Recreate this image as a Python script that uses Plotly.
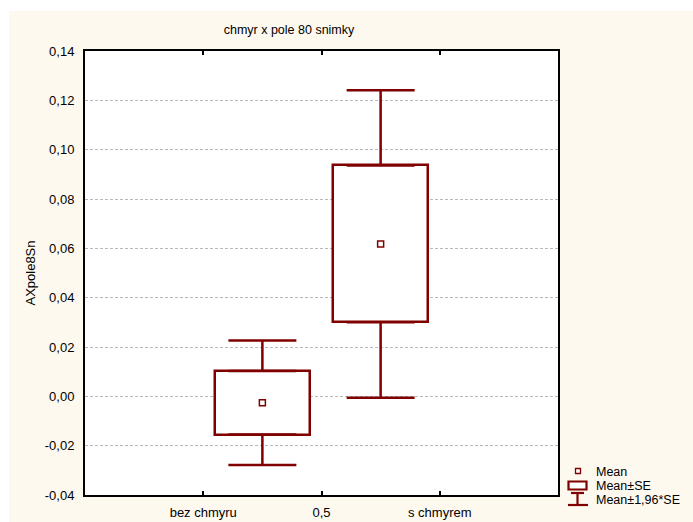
import plotly.graph_objects as go

# Group summary statistics (mean and standard error of AXpole8Sn)
groups = ["bez chmyru", "s chmyrem"]
group_pos = [0.25, 0.75]
means = [-0.0026, 0.0618]
se = [0.0129, 0.0318]
z = 1.96

tick_vals = [0, 0.5, 1]
tick_text = ["bez chmyru", "0,5", "s chmyrem"]
y_ticks = [-0.04, -0.02, 0.00, 0.02, 0.04, 0.06, 0.08, 0.10, 0.12, 0.14]
y_tick_text = [f"{v:.2f}".replace(".", ",") for v in y_ticks]

DARK_RED = "#800000"
CREAM = "#FDF9EF"
FONT = "Liberation Sans"

W, H = 693, 522
ML, MR, MT, MB = 85, 135, 51, 27
PW, PH = W - ML - MR, H - MT - MB


def px_x(px):
    return (px - ML) / PW


def px_y(py):
    return (H - MB - py) / PH


box_base = [m - s for m, s in zip(means, se)]
box_height = [2 * s for s in se]
upper_edge = [m + s for m, s in zip(means, se)]
lower_edge = [m - s for m, s in zip(means, se)]
whisker_len = [(z - 1) * s for s in se]

fig = go.Figure()

# Mean ± SE boxes
fig.add_trace(go.Bar(
    x=group_pos, y=box_height, base=box_base, width=0.4,
    marker=dict(color="white", line=dict(color=DARK_RED, width=2.5)),
    showlegend=False, hoverinfo="skip",
))

# Whiskers up to Mean ± 1.96*SE
fig.add_trace(go.Scatter(
    x=group_pos, y=upper_edge, mode="markers",
    marker=dict(size=1, color="rgba(0,0,0,0)"),
    error_y=dict(type="data", symmetric=False, array=whisker_len,
                 arrayminus=[0, 0], color=DARK_RED, thickness=2.5, width=34),
    showlegend=False, hoverinfo="skip",
))
fig.add_trace(go.Scatter(
    x=group_pos, y=lower_edge, mode="markers",
    marker=dict(size=1, color="rgba(0,0,0,0)"),
    error_y=dict(type="data", symmetric=False, array=[0, 0],
                 arrayminus=whisker_len, color=DARK_RED, thickness=2.5, width=34),
    showlegend=False, hoverinfo="skip",
))

# Means
fig.add_trace(go.Scatter(
    x=group_pos, y=means, mode="markers",
    marker=dict(symbol="square-open", size=6, color=DARK_RED,
                line=dict(width=1.5, color=DARK_RED)),
    showlegend=False, hoverinfo="skip",
))

shapes = [
    # white edge strips around the cream page
    dict(type="rect", xref="paper", yref="paper", x0=px_x(0), x1=px_x(W),
         y0=px_y(11), y1=px_y(0), fillcolor="white", line=dict(width=0),
         layer="above"),
    dict(type="rect", xref="paper", yref="paper", x0=px_x(0), x1=px_x(9),
         y0=px_y(H), y1=px_y(0), fillcolor="white", line=dict(width=0),
         layer="above"),
    # legend icons
    dict(type="rect", xref="paper", yref="paper", x0=px_x(575.5), x1=px_x(580.5),
         y0=px_y(473.5), y1=px_y(468.5), line=dict(color=DARK_RED, width=1.3),
         fillcolor="white"),
    dict(type="rect", xref="paper", yref="paper", x0=px_x(568.5), x1=px_x(586.5),
         y0=px_y(489.5), y1=px_y(481.5), line=dict(color=DARK_RED, width=2.2),
         fillcolor="white"),
    dict(type="line", xref="paper", yref="paper", x0=px_x(571), x1=px_x(584),
         y0=px_y(493), y1=px_y(493), line=dict(color=DARK_RED, width=2.2)),
    dict(type="line", xref="paper", yref="paper", x0=px_x(577.5), x1=px_x(577.5),
         y0=px_y(493), y1=px_y(505), line=dict(color=DARK_RED, width=2.2)),
    dict(type="line", xref="paper", yref="paper", x0=px_x(568), x1=px_x(588),
         y0=px_y(505), y1=px_y(505), line=dict(color=DARK_RED, width=2.2)),
]

legend_labels = ["Mean", "Mean\u00b1SE", "Mean\u00b11,96*SE"]
legend_y = [472, 486, 500]
annotations = [
    dict(text=t, xref="paper", yref="paper", x=px_x(594), y=px_y(yy),
         xanchor="left", yanchor="middle", showarrow=False,
         font=dict(family=FONT, size=12.5, color="black"))
    for t, yy in zip(legend_labels, legend_y)
]

fig.update_layout(
    width=W, height=H,
    margin=dict(l=ML, r=MR, t=MT, b=MB, pad=0, autoexpand=False),
    paper_bgcolor=CREAM, plot_bgcolor="white",
    separators=", ",
    font=dict(family=FONT, size=13, color="black"),
    title=dict(text="chmyr x pole 80 snimky", x=px_x(289), xref="paper",
               y=1 - 30 / H, yref="container", xanchor="center", yanchor="middle",
               font=dict(family=FONT, size=12.5, color="black"),
               automargin=False),
    showlegend=False,
    shapes=shapes,
    annotations=annotations,
    bargap=0,
)

fig.update_xaxes(
    range=[-0.5, 1.5], tickvals=tick_vals, ticktext=tick_text,
    showgrid=False, zeroline=False, automargin=False,
    showline=True, linecolor="black", linewidth=2, mirror="ticks",
    ticks="inside", ticklen=4, tickwidth=1.5, tickcolor="black",
    ticklabelstandoff=4,
)
fig.update_yaxes(
    range=[-0.04, 0.14], tickvals=y_ticks, ticktext=y_tick_text,
    showgrid=True, gridcolor="#b8b8b8", gridwidth=1, griddash="3px,2px",
    zeroline=False, automargin=False,
    showline=True, linecolor="black", linewidth=2, mirror=True,
    ticks="", ticklabelstandoff=6,
    title=dict(text="AXpole8Sn", standoff=6,
               font=dict(family=FONT, size=13, color="black")),
)

fig.write_html("out.html")
